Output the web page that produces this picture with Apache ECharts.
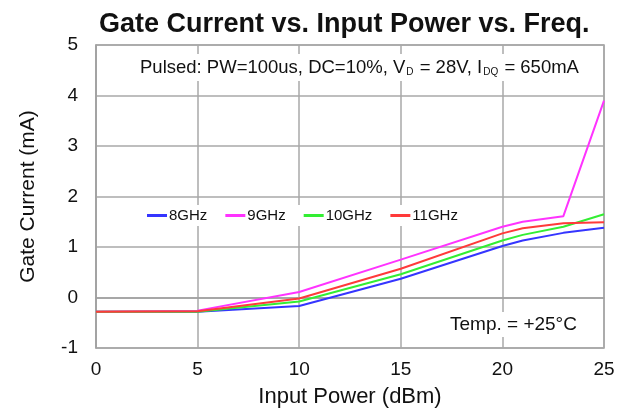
<!DOCTYPE html>
<html><head><meta charset="utf-8">
<script src="https://cdn.jsdelivr.net/npm/echarts@6/dist/echarts.min.js"></script>
<style>html,body{margin:0;padding:0;background:#fff}#c{width:626px;height:411px}</style>
</head><body><div id="c"></div>
<script>
var inputPower = [0, 5, 10, 15, 20, 21, 23, 25];
var ghz8  = [-0.28, -0.28, -0.17, 0.37, 1.02, 1.13, 1.28, 1.38];
var ghz9  = [-0.28, -0.26, 0.11, 0.75, 1.40, 1.50, 1.61, 3.90];
var ghz10 = [-0.28, -0.28, -0.08, 0.46, 1.13, 1.24, 1.40, 1.65];
var ghz11 = [-0.28, -0.27, -0.02, 0.57, 1.27, 1.37, 1.47, 1.49];
var seriesNames = ['8GHz', '9GHz', '10GHz', '11GHz'];
var seriesData = [ghz8, ghz9, ghz10, ghz11];
var colors = ['#3535ff', '#ff33ff', '#33ee33', '#ff3a3a'];

function pairs(ys){ return inputPower.map(function(x,i){ return [x, ys[i]]; }); }

var chart = echarts.init(document.getElementById('c'));
var font = 'Liberation Sans, Arial, sans-serif';
chart.setOption({
  animation: false,
  color: colors,
  title: {
    text: 'Gate Current vs. Input Power vs. Freq.',
    left: 94, top: 6,
    textStyle: { fontFamily: font, fontSize: 27, fontWeight: 'bold', color: '#111' }
  },
  grid: { left: 96, right: 22, top: 45, bottom: 63, containLabel: false, outerBoundsMode: 'none', show: true, borderColor: '#a0a0a0', borderWidth: 1.5 },
  legend: {
    data: seriesNames,
    left: 143, top: 205,
    backgroundColor: '#fff',
    padding: [3, 4],
    itemWidth: 20, itemHeight: 3, itemGap: 18,
    icon: 'rect',
    textStyle: { fontFamily: font, fontSize: 15, color: '#111', padding: [0,0,0,-3] }
  },
  xAxis: {
    type: 'value', min: 0, max: 25, interval: 5,
    name: 'Input Power (dBm)', nameLocation: 'middle', nameGap: 38,
    nameTextStyle: { fontFamily: font, fontSize: 22, color: '#111' },
    axisLine: { lineStyle: { color: '#a0a0a0', width: 1.5 } },
    axisTick: { show: false },
    axisLabel: { fontFamily: font, fontSize: 19, color: '#111', margin: 12 },
    splitLine: { lineStyle: { color: '#a8a8a8', width: 1.5 } }
  },
  yAxis: {
    type: 'value', min: -1, max: 5, interval: 1,
    name: 'Gate Current (mA)', nameLocation: 'middle', nameGap: 57,
    nameTextStyle: { fontFamily: font, fontSize: 21, color: '#111' },
    axisLine: { show: true, lineStyle: { color: '#a0a0a0', width: 1.5 } },
    axisTick: { show: false },
    axisLabel: { fontFamily: font, fontSize: 19, color: '#111', margin: 18 },
    splitLine: { lineStyle: { color: '#a8a8a8', width: 1.5 } }
  },
  graphic: [
    {
      type: 'text', left: 134, top: 54, z: 10,
      style: {
        text: 'Pulsed: PW=100us, DC=10%, V{s|D} = 28V, I{s|DQ} = 650mA',
        font: '18.5px Liberation Sans, Arial, sans-serif',
        fill: '#111',
        backgroundColor: '#fff', padding: [4, 6],
        rich: { s: { fontSize: 10, verticalAlign: 'bottom', padding: [7,1,0,1], fill: '#111' } }
      }
    },
    {
      type: 'text', left: 444, top: 312, z: 10,
      style: {
        text: 'Temp. = +25°C',
        font: '19px Liberation Sans, Arial, sans-serif',
        fill: '#111',
        backgroundColor: '#fff', padding: [3, 6]
      }
    }
  ],
  series: seriesNames.map(function(n, i){
    return {
      name: n, type: 'line', data: pairs(seriesData[i]),
      showSymbol: false, symbol: 'none',
      lineStyle: { width: 2, color: colors[i] },
      z: [2, 3, 4, 5][i]
    };
  })
});
</script></body></html>
